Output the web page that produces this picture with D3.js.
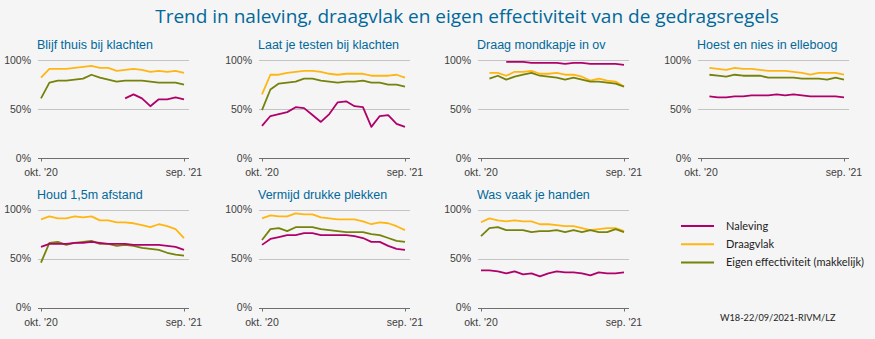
<!DOCTYPE html>
<html>
<head>
<meta charset="utf-8">
<script src="https://cdn.jsdelivr.net/npm/d3@7"></script>
<style>
  html, body { margin: 0; padding: 0; background: #f5f5f5; }
  svg { display: block; }
</style>
</head>
<body>
<script>
// ---- data ----
const rounds = d3.range(18); // survey rounds okt '20 .. sep '21
const xTickLabels = ["okt. '20", "sep. '21"];
const yTicks = [0, 50, 100];
const seriesNames = ["Naleving", "Draagvlak", "Eigen effectiviteit (makkelijk)"];
const panelTitles = [
  "Blijf thuis bij klachten", "Laat je testen bij klachten", "Draag mondkapje in ov",
  "Hoest en nies in elleboog", "Houd 1,5m afstand", "Vermijd drukke plekken", "Was vaak je handen"
];
const N = null;
const blijfThuisNaleving  = [N,N,N,N,N,N,N,N,N,N,61,65,61,53,60,60,62,60];
const blijfThuisDraagvlak = [82,91,91,91,92,93,94,92,92,89,90,91,90,88,89,88,89,87];
const blijfThuisEigen     = [61,77,79,79,80,81,85,82,80,78,79,79,79,78,77,77,77,75];

const testenNaleving  = [33,43,45,47,52,51,44,37,45,57,58,53,52,32,43,44,35,32];
const testenDraagvlak = [65,85,85,87,88,89,89,88,86,85,86,86,86,84,84,84,85,82];
const testenEigen     = [49,70,76,77,78,81,81,79,78,77,78,78,79,77,77,75,75,73];

const mondkapjeNaleving  = [N,N,N,98,98,98,97,97,97,97,96,97,97,96,96,96,96,95];
const mondkapjeDraagvlak = [N,87,87,84,88,88,89,86,86,87,85,85,83,79,81,79,78,73];
const mondkapjeEigen     = [N,81,84,80,83,85,87,84,83,82,80,82,80,78,78,77,76,73];

const hoestNaleving  = [N,63,62,62,63,63,64,64,64,65,64,65,64,63,63,63,63,62];
const hoestDraagvlak = [N,92,91,90,92,91,91,90,89,89,89,88,87,85,87,87,87,85];
const hoestEigen     = [N,85,84,83,85,84,84,84,82,82,82,82,81,81,81,80,82,80];

const afstandNaleving  = [62,65,65,65,66,66,67,66,65,65,65,64,64,64,64,63,62,59];
const afstandDraagvlak = [90,93,91,91,93,92,93,89,89,87,87,86,84,82,85,83,80,71];
const afstandEigen     = [46,66,67,64,66,67,68,65,65,63,64,63,61,60,59,56,54,53];

const drukkeNaleving  = [64,70,72,74,74,76,76,74,74,74,74,73,71,67,67,63,60,59];
const drukkeDraagvlak = [91,94,93,93,96,95,95,92,91,90,90,90,88,85,87,86,83,79];
const drukkeEigen     = [69,80,81,78,82,82,82,80,79,78,77,77,77,75,74,71,68,67];

const handenNaleving  = [38,38,37,35,37,34,35,32,35,37,36,36,35,33,36,35,35,36];
const handenDraagvlak = [87,91,89,88,89,88,88,85,85,84,83,83,81,79,80,81,81,78];
const handenEigen     = [73,81,82,79,79,79,77,78,78,79,77,79,77,79,77,77,80,77];

const panelSeries = [
  [blijfThuisNaleving, blijfThuisDraagvlak, blijfThuisEigen],
  [testenNaleving, testenDraagvlak, testenEigen],
  [mondkapjeNaleving, mondkapjeDraagvlak, mondkapjeEigen],
  [hoestNaleving, hoestDraagvlak, hoestEigen],
  [afstandNaleving, afstandDraagvlak, afstandEigen],
  [drukkeNaleving, drukkeDraagvlak, drukkeEigen],
  [handenNaleving, handenDraagvlak, handenEigen]
];
const footer = "W18-22/09/2021-RIVM/LZ";
const mainTitle = "Trend in naleving, draagvlak en eigen effectiviteit van de gedragsregels";

// ---- layout / style ----
const W = 875, H = 339;
const colors = ["#b0006a", "#ffb612", "#76820a"];
const blue = "#01689b";
const colX0 = [41, 262, 481, 701];   // x of first round tick
const plotW = 143;
const rowY = [{top: 60, bottom: 158.3}, {top: 209.5, bottom: 307.8}];

const svg = d3.select("body").append("svg").attr("width", W).attr("height", H);
svg.append("rect").attr("width", W).attr("height", H).attr("fill", "#f5f5f5");

svg.append("text")
  .attr("x", 467).attr("y", 23)
  .attr("text-anchor", "middle")
  .attr("font-family", "'Open Sans', sans-serif")
  .attr("font-size", 19)
  .attr("fill", blue)
  .text(mainTitle);

panelTitles.forEach((title, i) => {
  const row = Math.floor(i / 4), col = i % 4;
  const x0 = colX0[col];
  const x = d3.scaleLinear().domain([0, 17]).range([x0, x0 + plotW]);
  const y = d3.scaleLinear().domain([0, 100]).range([rowY[row].bottom, rowY[row].top]);
  const g = svg.append("g");
  const gl = x0 - 3, gr = x0 + plotW + 5;

  // title
  g.append("text")
    .attr("x", x0 - 4).attr("y", y(100) - 11)
    .attr("font-family", "'Liberation Sans', Arial, sans-serif")
    .attr("font-size", 12.5)
    .attr("fill", blue)
    .text(title);

  // gridlines
  g.selectAll("line.grid").data(yTicks.filter(t => t > 0)).join("line")
    .attr("x1", gl).attr("x2", gr)
    .attr("y1", d => Math.round(y(d)) + 0.5).attr("y2", d => Math.round(y(d)) + 0.5)
    .attr("stroke", "#c4c4c4").attr("stroke-width", 1);

  // y labels
  g.selectAll("text.yl").data(yTicks).join("text")
    .attr("x", gl - 7).attr("y", d => y(d)).attr("dy", "0.35em")
    .attr("text-anchor", "end")
    .attr("font-family", "'Liberation Sans', Arial, sans-serif")
    .attr("font-size", 10.5).attr("fill", "#404040")
    .text(d => d + "%");

  // x axis
  const ax = g.append("g").attr("transform", `translate(0,${Math.round(y(0)) + 0.5})`);
  ax.append("line").attr("x1", gl).attr("x2", gr).attr("stroke", "#6e6e6e");
  const tickIdx = [0, 17];
  ax.selectAll("line.t").data(tickIdx).join("line")
    .attr("x1", d => Math.round(x(d)) + 0.5).attr("x2", d => Math.round(x(d)) + 0.5)
    .attr("y1", 0).attr("y2", 3).attr("stroke", "#6e6e6e");
  ax.selectAll("text").data(tickIdx).join("text")
    .attr("x", d => x(d)).attr("y", 17)
    .attr("text-anchor", "middle")
    .attr("font-family", "'Liberation Sans', Arial, sans-serif")
    .attr("font-size", 10.5).attr("fill", "#404040")
    .text((d, k) => xTickLabels[k]);

  // lines (draw draagvlak & eigen first, naleving on top)
  const line = d3.line().defined(d => d != null).x((d, k) => x(rounds[k])).y(d => y(d));
  [1, 2, 0].forEach(s => {
    g.append("path")
      .attr("d", line(panelSeries[i][s]))
      .attr("fill", "none")
      .attr("stroke", colors[s])
      .attr("stroke-width", 1.8)
      .attr("stroke-linejoin", "round");
  });
});

// legend
const lg = svg.append("g");
seriesNames.forEach((name, k) => {
  const yy = 226 + k * 18.3;
  lg.append("line").attr("x1", 681).attr("x2", 714).attr("y1", yy).attr("y2", yy)
    .attr("stroke", colors[k]).attr("stroke-width", 2);
  lg.append("text").attr("x", 726).attr("y", yy).attr("dy", "0.35em")
    .attr("font-family", "Lato, 'Open Sans', sans-serif").attr("font-size", 11)
    .attr("fill", "#222").text(name);
});
svg.append("text").attr("x", 720).attr("y", 318).attr("dy", "0.35em")
  .attr("font-family", "Lato, 'Open Sans', sans-serif").attr("font-size", 9.2)
  .attr("fill", "#222").text(footer);
</script>
</body>
</html>
